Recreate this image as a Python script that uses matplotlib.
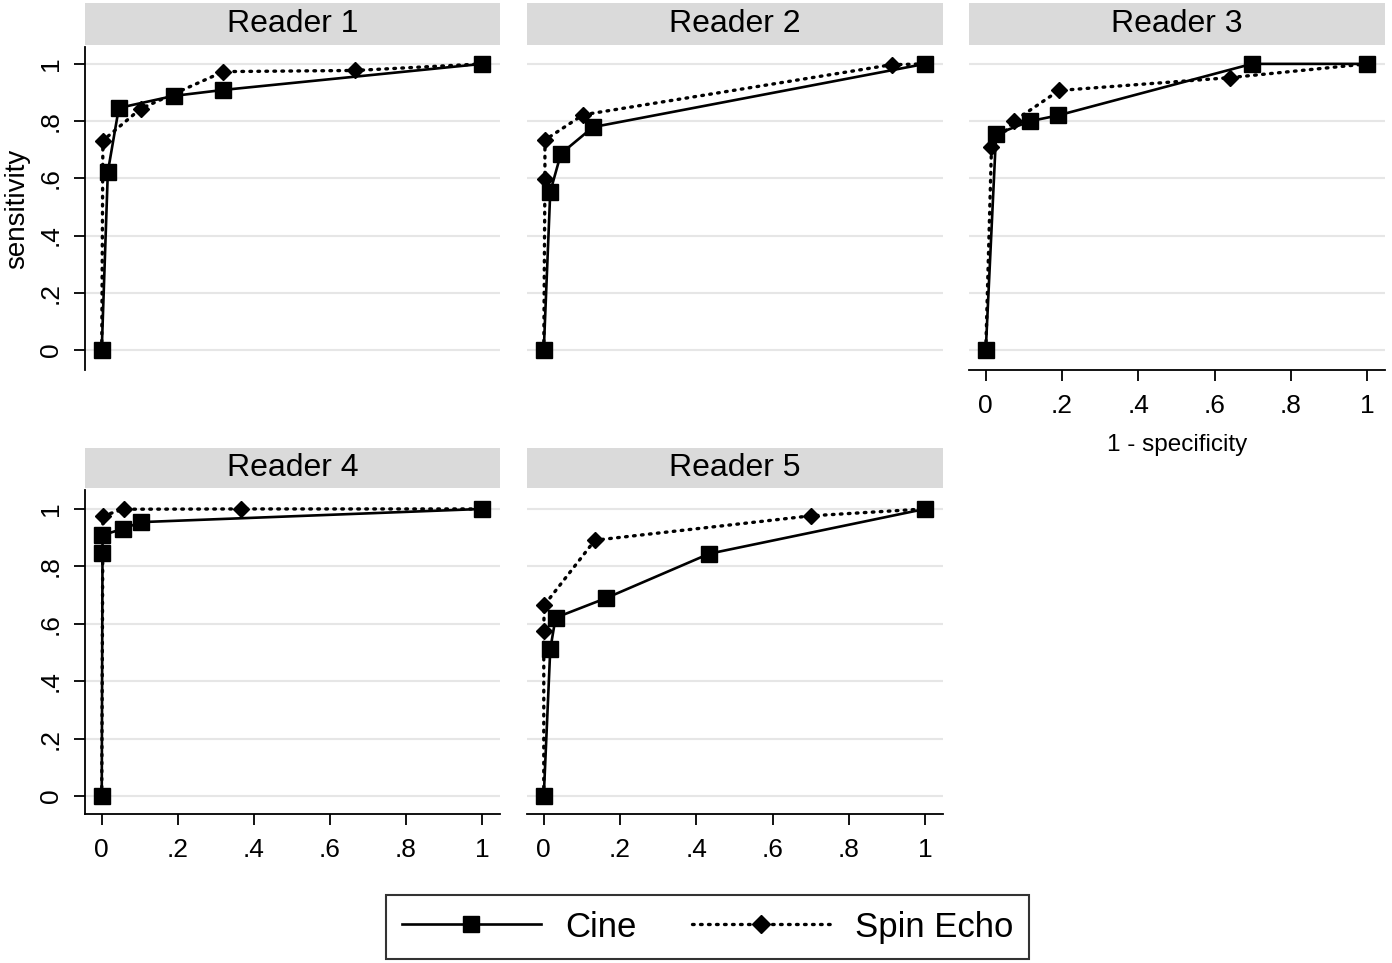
import numpy as np
import matplotlib
matplotlib.use("Agg")
import matplotlib.pyplot as plt
from matplotlib.lines import Line2D

plt.rcParams['font.family'] = ['Liberation Sans', 'DejaVu Sans']

# ROC points per reader: (1 - specificity, sensitivity)
readers = ["Reader 1", "Reader 2", "Reader 3", "Reader 4", "Reader 5"]

cine_x = [
    [0, 0.016, 0.045, 0.189, 0.32, 1],
    [0, 0.017, 0.045, 0.129, 1],
    [0, 0.027, 0.117, 0.19, 0.698, 1],
    [0, 0.002, 0.002, 0.057, 0.102, 1],
    [0, 0.017, 0.031, 0.163, 0.434, 1],
]
cine_y = [
    [0, 0.622, 0.846, 0.888, 0.909, 1],
    [0, 0.553, 0.686, 0.779, 1],
    [0, 0.754, 0.80, 0.82, 1.0, 1],
    [0, 0.846, 0.909, 0.931, 0.954, 1],
    [0, 0.511, 0.621, 0.689, 0.844, 1],
]
spin_x = [
    [0, 0.003, 0.102, 0.32, 0.667, 1],
    [0, 0.003, 0.003, 0.103, 0.912, 1],
    [0, 0.015, 0.074, 0.192, 0.641, 1],
    [0, 0.003, 0.058, 0.366, 1],
    [0, 0.0, 0.001, 0.134, 0.70, 1],
]
spin_y = [
    [0, 0.732, 0.843, 0.973, 0.977, 1],
    [0, 0.599, 0.734, 0.822, 0.997, 1],
    [0, 0.709, 0.80, 0.907, 0.952, 1],
    [0, 0.976, 0.999, 1.0, 1],
    [0, 0.576, 0.664, 0.891, 0.976, 1],
]

ticks = [0, 0.2, 0.4, 0.6, 0.8, 1]
tick_labels = ["0", ".2", ".4", ".6", ".8", "1"]

W, H = 1392, 963
fig = plt.figure(figsize=(W / 100, H / 100), dpi=100)
fig.patch.set_facecolor('white')


def box(l, t, r, b):
    return [l / W, 1 - b / H, (r - l) / W, (b - t) / H]


cols = [(85, 500), (527, 943), (969, 1385)]
rows = [(47, 370, 3, 45, (-0.07, 1.059)), (490, 814, 448, 488, (-0.063, 1.066))]
cine_style = dict(color='black', lw=1.9, ls='-', marker='s', ms=11.5)
spin_style = dict(color='black', lw=2.4, ls=(0, (0.5, 1.9)), marker='D', ms=8.5,
                  dash_capstyle='round')

for i, name in enumerate(readers):
    r, c = divmod(i, 3)
    l, rr = cols[c]
    t, b, st, sb, ylim = rows[r]

    strip = fig.add_axes(box(l, st, rr, sb))
    strip.set_facecolor('#dadada')
    strip.set_xticks([])
    strip.set_yticks([])
    for s in strip.spines.values():
        s.set_visible(False)
    strip.text(0.5, 0.5, name, ha='center', va='center', fontsize=23,
               transform=strip.transAxes)

    ax = fig.add_axes(box(l, t, rr, b))
    ax.set_xlim(-0.044, 1.047)
    ax.set_ylim(*ylim)
    for y in ticks:
        ax.axhline(y, color='#e6e6e6', lw=1.5, zorder=0)
    ax.plot(cine_x[i], cine_y[i], **cine_style, zorder=3)
    ax.plot(spin_x[i], spin_y[i], **spin_style, zorder=4)

    for s in ['top', 'right']:
        ax.spines[s].set_visible(False)
    ax.spines['left'].set_visible(c == 0)
    show_x = (r == 1) or (c == 2)
    ax.spines['bottom'].set_visible(show_x)
    for s in ax.spines.values():
        s.set_linewidth(1.3)

    ax.set_yticks(ticks)
    ax.set_xticks(ticks)
    if c == 0:
        ax.set_yticklabels(tick_labels, rotation=90, va='center', fontsize=19)
        ax.tick_params(axis='y', length=8, width=1.3, pad=8)
    else:
        ax.tick_params(axis='y', left=False, labelleft=False)
    if show_x:
        ax.set_xticklabels(tick_labels, fontsize=19)
        ax.tick_params(axis='x', length=8, width=1.3, pad=9)
    else:
        ax.tick_params(axis='x', bottom=False, labelbottom=False)

    if i == 0:
        ax.set_ylabel("sensitivity", fontsize=20, labelpad=6)
    if i == 2:
        ax.set_xlabel("1 - specificity", fontsize=17.5, labelpad=12)

# legend
handles = [
    Line2D([], [], **dict(cine_style, ms=12)),
    Line2D([], [], **dict(spin_style, ms=9)),
]
leg = fig.legend(handles, ["Cine", "Spin Echo"], loc='center',
                 bbox_to_anchor=((382 + 1033) / 2 / W, 1 - 927 / H),
                 ncol=2, fontsize=25, frameon=True, fancybox=False,
                 handlelength=4.0, columnspacing=1.6, handletextpad=0.7,
                 borderpad=0.45)
leg.get_frame().set_edgecolor('black')
leg.get_frame().set_linewidth(1.5)

fig.savefig("out.png", dpi=100)
